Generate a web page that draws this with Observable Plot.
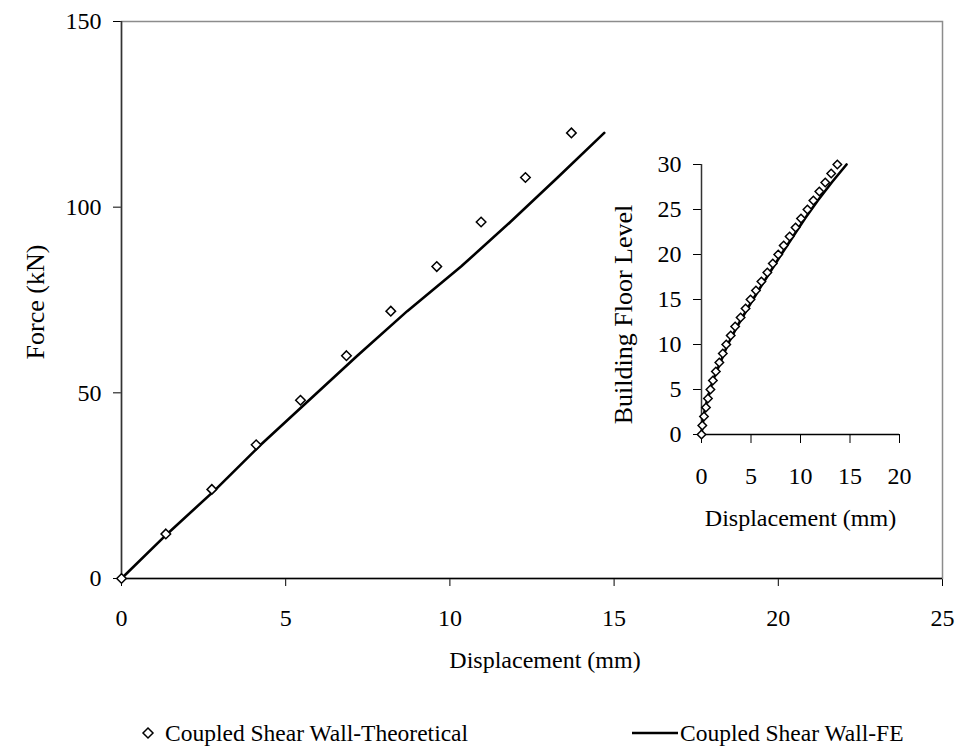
<!DOCTYPE html>
<html>
<head>
<meta charset="utf-8">
<script src="https://cdn.jsdelivr.net/npm/d3@7"></script>
<script src="https://cdn.jsdelivr.net/npm/@observablehq/plot@0.6"></script>
<style>
  html, body { margin: 0; padding: 0; background: #fff; }
  #wrap { position: relative; width: 956px; height: 746px; overflow: hidden; font-family: "Liberation Serif", "Times New Roman", serif; color: #000; }
  #main { position: absolute; left: 0; top: 0; }
  #inset { position: absolute; left: 600px; top: 140px; }
  #legend { position: absolute; left: 0; top: 700px; width: 956px; height: 46px; font-size: 23.5px; }
  #legend .item { position: absolute; top: 21px; height: 24px; line-height: 24px; white-space: nowrap; display: flex; align-items: center; }
  #legend svg { display: block; }
</style>
</head>
<body>
<div id="wrap">
  <div id="main"></div>
  <div id="inset"></div>
  <div id="legend"></div>
</div>
<script>
// ---- Main chart data (force vs roof displacement) ----
const theoryDisp  = [0, 1.35, 2.75, 4.1, 5.45, 6.85, 8.2, 9.6, 10.95, 12.3, 13.7];
const theoryForce = [0, 12, 24, 36, 48, 60, 72, 84, 96, 108, 120];
const feDisp  = [0, 1.39, 2.87, 4.24, 5.71, 7.18, 8.7, 10.34, 11.84, 13.28, 14.7];
const feForce = [0, 12, 24, 36, 48, 60, 72, 84, 96, 108, 120];
const mainXTicks = [0, 5, 10, 15, 20, 25];
const mainYTicks = [0, 50, 100, 150];

// ---- Inset data (floor level vs displacement) ----
const insetFloors = [0,1,2,3,4,5,6,7,8,9,10,11,12,13,14,15,16,17,18,19,20,21,22,23,24,25,26,27,28,29,30];
const insetTheoryDisp = [0,0.08,0.25,0.45,0.65,0.9,1.15,1.45,1.8,2.15,2.5,2.95,3.4,3.95,4.45,4.95,5.5,6.05,6.65,7.2,7.75,8.3,8.9,9.5,10.05,10.7,11.3,11.9,12.5,13.1,13.72];
const insetFEFloors = [0, 2, 4, 6, 8, 10, 12, 14, 16, 18, 20, 22, 24, 26, 28, 30];
const insetFEDisp   = [0, 0.2, 0.6, 1.15, 1.9, 2.65, 3.6, 4.65, 5.75, 6.9, 8.05, 9.25, 10.45, 11.75, 13.15, 14.65];
const insetXTicks = [0, 5, 10, 15, 20];
const insetYTicks = [0, 5, 10, 15, 20, 25, 30];

const seriesTheory = "Coupled Shear Wall-Theoretical";
const seriesFE = "Coupled Shear Wall-FE";

const theoryRows = theoryDisp.map((d, i) => ({d, f: theoryForce[i]}));
const feRows = feDisp.map((d, i) => ({d, f: feForce[i]}));
const insetTheoryRows = insetTheoryDisp.map((d, i) => ({d, fl: insetFloors[i]}));
const insetFERows = insetFEDisp.map((d, i) => ({d, fl: insetFEFloors[i]}));

const FONT = "Liberation Serif, Times New Roman, serif";

const main = Plot.plot({
  width: 956,
  height: 700,
  marginLeft: 121,
  marginRight: 14,
  marginTop: 21,
  marginBottom: 122,
  style: { fontFamily: FONT, fontSize: "24px", color: "#000", background: "#fff", overflow: "visible" },
  x: { domain: [0, 25], ticks: mainXTicks, tickSize: 8, tickPadding: 22, label: null, tickFormat: d => String(d) },
  y: { domain: [0, 150], ticks: mainYTicks, tickSize: 8, tickPadding: 12, label: null, tickFormat: d => String(d) },
  marks: [
    Plot.frame({ stroke: "#8c8c8c", strokeWidth: 1.5 }),
    Plot.ruleX([0], { stroke: "#333", strokeWidth: 1.5 }),
    Plot.ruleY([0], { stroke: "#000", strokeWidth: 1.5 }),
    Plot.line(feRows, { x: "d", y: "f", stroke: "#000", strokeWidth: 2.6 }),
    Plot.dot(theoryRows, { x: "d", y: "f", symbol: "diamond2", r: 4.3, stroke: "#000", fill: "#fff", strokeWidth: 1.5 }),
    Plot.text(["Displacement (mm)"], { frameAnchor: "bottom", dx: 13, dy: 82, fontSize: 24, fontFamily: FONT, fill: "#000", textAnchor: "middle", lineAnchor: "middle" }),
    Plot.text(["Force (kN)"], { frameAnchor: "left", dx: -86, dy: 2, rotate: -90, fontSize: 26, fontFamily: FONT, fill: "#000", textAnchor: "middle", lineAnchor: "middle" })
  ]
});
document.getElementById("main").appendChild(main);

const inset = Plot.plot({
  width: 340,
  height: 380,
  marginLeft: 101,
  marginRight: 41,
  marginTop: 24,
  marginBottom: 86,
  style: { fontFamily: FONT, fontSize: "24px", color: "#000", background: "transparent", overflow: "visible" },
  x: { domain: [0, 20], ticks: insetXTicks, tickSize: 9, tickPadding: 23, label: null, tickFormat: d => String(d) },
  y: { domain: [0, 30], ticks: insetYTicks, tickSize: 8, tickPadding: 12, label: null, tickFormat: d => String(d) },
  marks: [
    Plot.ruleX([0], { stroke: "#333", strokeWidth: 1.5 }),
    Plot.ruleY([0], { stroke: "#000", strokeWidth: 1.5 }),
    Plot.line(insetFERows, { x: "d", y: "fl", stroke: "#000", strokeWidth: 2.6 }),
    Plot.dot(insetTheoryRows, { x: "d", y: "fl", symbol: "diamond2", r: 3.8, stroke: "#000", fill: "#fff", strokeWidth: 1.5 }),
    Plot.text(["Displacement (mm)"], { frameAnchor: "bottom", dx: 0, dy: 84, fontSize: 24, fontFamily: FONT, fill: "#000", textAnchor: "middle", lineAnchor: "middle" }),
    Plot.text(["Building Floor Level"], { frameAnchor: "left", dx: -78, dy: 15, rotate: -90, fontSize: 26, fontFamily: FONT, fill: "#000", textAnchor: "middle", lineAnchor: "middle" })
  ]
});
document.getElementById("inset").appendChild(inset);

// ---- Legend ----
const legend = document.getElementById("legend");
legend.innerHTML = `
  <div class="item" style="left:138px;">
    <svg width="20" height="20" viewBox="-10 -10 20 20"><path d="M0,-5L5,0L0,5L-5,0Z" fill="#fff" stroke="#000" stroke-width="1.5"/></svg>
    <span style="margin-left:7px;">${seriesTheory}</span>
  </div>
  <div class="item" style="left:632px;">
    <svg width="46" height="20"><line x1="0" y1="10" x2="46" y2="10" stroke="#000" stroke-width="2.6"/></svg>
    <span style="margin-left:2px;">${seriesFE}</span>
  </div>`;
</script>
</body>
</html>
